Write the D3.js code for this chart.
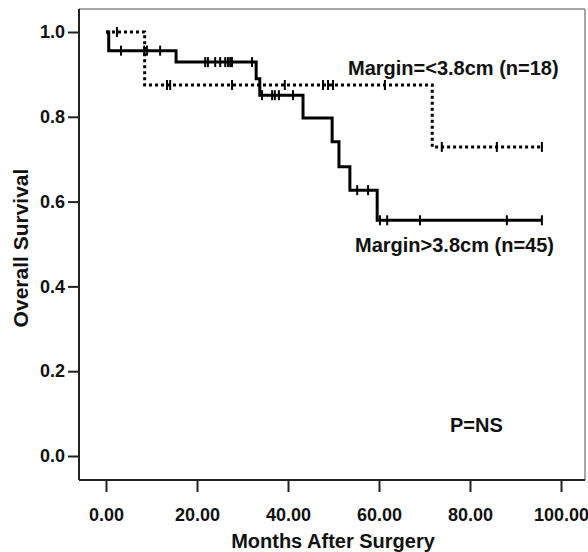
<!DOCTYPE html>
<html><head><meta charset="utf-8">
<script src="https://cdn.jsdelivr.net/npm/d3@7/dist/d3.min.js"></script>
<style>
html,body{margin:0;padding:0;background:#fff;}
text{font-family:"Liberation Sans",Arial,sans-serif;font-weight:bold;fill:#111;}
</style></head>
<body><svg id="c" width="588" height="552"></svg>
<script>
// ---- data ----
const xTicks = [0, 20, 40, 60, 80, 100];
const yTicks = [0, 0.2, 0.4, 0.6, 0.8, 1.0];
// Margin=<3.8cm (n=18) : dotted curve
const smallTimes = [0, 8.5, 71.7, 95.8];
const smallSurv  = [1.0, 0.875, 0.729, 0.729];
const smallCensor = [2.4, 13.4, 14.1, 27.7, 39.3, 47.7, 48.8, 49.9, 61.3, 73.8, 85.9, 95.8];
// Margin>3.8cm (n=45) : solid curve
const largeTimes = [0, 0.6, 15.4, 33.0, 33.8, 43.3, 49.7, 51.2, 53.6, 59.6, 95.8];
const largeSurv  = [1.0, 0.956, 0.929, 0.89, 0.851, 0.797, 0.741, 0.682, 0.627, 0.556, 0.556];
const largeCensor = [3.3, 8.4, 9.0, 11.9, 21.8, 22.4, 24.0, 25.1, 26.2, 26.8, 27.3, 27.7, 32.1,
                     34.3, 36.5, 37.1, 38.0, 41.1, 55.2, 57.6, 60.2, 61.8, 69.0, 88.1, 95.8];
const labels = ["Margin=<3.8cm (n=18)", "Margin>3.8cm (n=45)", "P=NS"];

// ---- layout ----
const svg = d3.select("#c");
const frame = {left: 79, right: 585, top: 9, bottom: 480};
const x = d3.scaleLinear().domain([0, 100]).range([106, 561]);
const y = d3.scaleLinear().domain([0, 1]).range([456, 32]);

// frame
svg.append("line").attr("x1", frame.left).attr("x2", frame.right).attr("y1", frame.top).attr("y2", frame.top)
  .attr("stroke", "#888").attr("stroke-width", 1.5);
svg.append("line").attr("x1", frame.right).attr("x2", frame.right).attr("y1", frame.top).attr("y2", frame.bottom)
  .attr("stroke", "#888").attr("stroke-width", 1.5);

// axes
const xAxis = d3.axisBottom(x).tickValues(xTicks).tickSize(12).tickSizeOuter(0).tickPadding(16)
  .tickFormat(d3.format(".2f"));
const gx = svg.append("g").attr("transform", `translate(0,${frame.bottom})`).call(xAxis);
gx.select(".domain").attr("d", `M${frame.left},0H${frame.right}`).attr("stroke", "#222").attr("stroke-width", 2);
gx.selectAll(".tick line").attr("stroke", "#222").attr("stroke-width", 2);
gx.selectAll(".tick text").attr("font-size", 18).attr("font-family", "Liberation Sans, Arial, sans-serif")
  .attr("font-weight", "bold").attr("fill", "#111").attr("dy", "0.71em");

const yAxis = d3.axisLeft(y).tickValues(yTicks).tickSize(11).tickSizeOuter(0).tickPadding(3)
  .tickFormat(d3.format(".1f"));
const gy = svg.append("g").attr("transform", `translate(${frame.left},0)`).call(yAxis);
gy.select(".domain").attr("d", `M0,${frame.top}V${frame.bottom}`).attr("stroke", "#222").attr("stroke-width", 2);
gy.selectAll(".tick line").attr("stroke", "#222").attr("stroke-width", 2);
gy.selectAll(".tick text").attr("font-size", 18).attr("font-family", "Liberation Sans, Arial, sans-serif")
  .attr("font-weight", "bold").attr("fill", "#111");

// curves
const line = d3.line().x(d => x(d[0])).y(d => y(d[1])).curve(d3.curveStepAfter);
const smallPts = smallTimes.map((t, i) => [t, smallSurv[i]]);
const largePts = largeTimes.map((t, i) => [t, largeSurv[i]]);

function survAt(times, surv, t) {
  let s = surv[0];
  for (let i = 0; i < times.length; i++) if (times[i] <= t) s = surv[i];
  return s;
}

svg.append("path").datum(largePts).attr("d", line).attr("fill", "none")
  .attr("stroke", "#000").attr("stroke-width", 3);
svg.append("path").datum(smallPts).attr("d", line).attr("fill", "none")
  .attr("stroke", "#000").attr("stroke-width", 3).attr("stroke-dasharray", "3,3");

svg.append("g").selectAll("line").data(largeCensor).join("line")
  .attr("x1", d => x(d)).attr("x2", d => x(d))
  .attr("y1", d => y(survAt(largeTimes, largeSurv, d)) - 5)
  .attr("y2", d => y(survAt(largeTimes, largeSurv, d)) + 5)
  .attr("stroke", "#000").attr("stroke-width", 2);
svg.append("g").selectAll("line").data(smallCensor).join("line")
  .attr("x1", d => x(d)).attr("x2", d => x(d))
  .attr("y1", d => y(survAt(smallTimes, smallSurv, d)) - 5)
  .attr("y2", d => y(survAt(smallTimes, smallSurv, d)) + 5)
  .attr("stroke", "#000").attr("stroke-width", 2);

// annotations
svg.append("text").attr("x", 348).attr("y", 75).attr("font-size", 20).text(labels[0]);
svg.append("text").attr("x", 355).attr("y", 252).attr("font-size", 20).text(labels[1]);
svg.append("text").attr("x", 450).attr("y", 432).attr("font-size", 20).text(labels[2]);

// axis titles
svg.append("text").attr("x", 333).attr("y", 548).attr("text-anchor", "middle")
  .attr("font-size", 20).text("Months After Surgery");
svg.append("text").attr("transform", "translate(28,248) rotate(-90)").attr("text-anchor", "middle")
  .attr("font-size", 21).text("Overall Survival");
</script></body></html>
